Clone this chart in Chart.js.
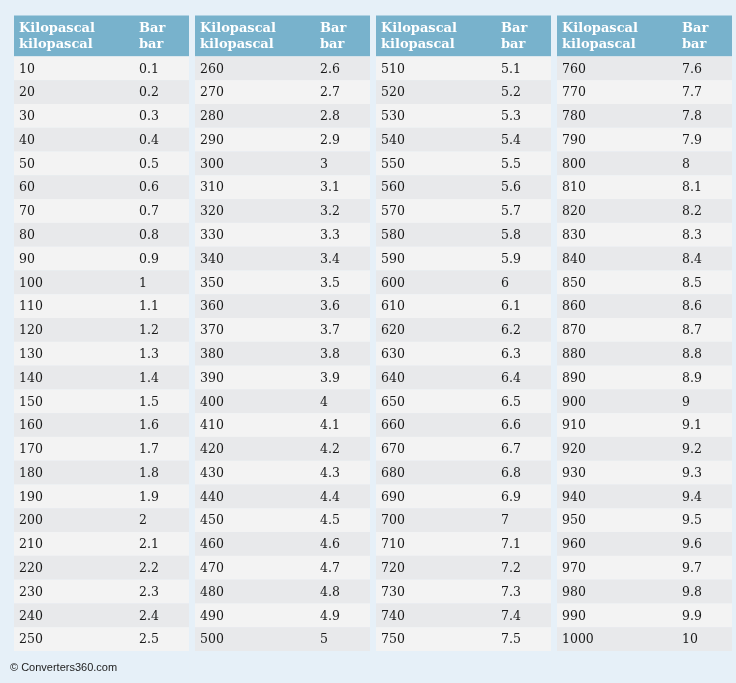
<!DOCTYPE html>
<html>
<head>
<meta charset="utf-8">
<script src="https://cdn.jsdelivr.net/npm/chart.js@4.4.1/dist/chart.umd.min.js"></script>
<style>
  html, body { margin: 0; padding: 0; background: #e6f0f8; }
  #wrap { width: 736px; height: 683px; position: relative; }
</style>
</head>
<body>
<div id="wrap"><canvas id="tbl"></canvas></div>
<script>
// header labels of each block
const headKpa = ['Kilopascal', 'kilopascal'];
const headBar = ['Bar', 'bar'];

// table values, 4 blocks of 25 rows
const kilopascal = [
  10, 20, 30, 40, 50, 60, 70, 80, 90, 100, 110, 120, 130, 140, 150, 160, 170, 180, 190, 200, 210, 220, 230, 240, 250,
  260, 270, 280, 290, 300, 310, 320, 330, 340, 350, 360, 370, 380, 390, 400, 410, 420, 430, 440, 450, 460, 470, 480, 490, 500,
  510, 520, 530, 540, 550, 560, 570, 580, 590, 600, 610, 620, 630, 640, 650, 660, 670, 680, 690, 700, 710, 720, 730, 740, 750,
  760, 770, 780, 790, 800, 810, 820, 830, 840, 850, 860, 870, 880, 890, 900, 910, 920, 930, 940, 950, 960, 970, 980, 990, 1000
];
const bar = [
  0.1, 0.2, 0.3, 0.4, 0.5, 0.6, 0.7, 0.8, 0.9, 1, 1.1, 1.2, 1.3, 1.4, 1.5, 1.6, 1.7, 1.8, 1.9, 2, 2.1, 2.2, 2.3, 2.4, 2.5,
  2.6, 2.7, 2.8, 2.9, 3, 3.1, 3.2, 3.3, 3.4, 3.5, 3.6, 3.7, 3.8, 3.9, 4, 4.1, 4.2, 4.3, 4.4, 4.5, 4.6, 4.7, 4.8, 4.9, 5,
  5.1, 5.2, 5.3, 5.4, 5.5, 5.6, 5.7, 5.8, 5.9, 6, 6.1, 6.2, 6.3, 6.4, 6.5, 6.6, 6.7, 6.8, 6.9, 7, 7.1, 7.2, 7.3, 7.4, 7.5,
  7.6, 7.7, 7.8, 7.9, 8, 8.1, 8.2, 8.3, 8.4, 8.5, 8.6, 8.7, 8.8, 8.9, 9, 9.1, 9.2, 9.3, 9.4, 9.5, 9.6, 9.7, 9.8, 9.9, 10
];
const rowsPerBlock = 25;
const footer = '\u00a9 Converters360.com';

const BLOCK_W = 175 / 181;   // block width, in block spacing units
const HEAD_ROWS = 1.72;      // header height, in row units

const tablePlugin = {
  id: 'tableCells',
  beforeDraw(chart) {
    const ctx = chart.ctx;
    ctx.save();
    ctx.fillStyle = '#e6f0f8';
    ctx.fillRect(0, 0, chart.width, chart.height);
    ctx.restore();
  },
  afterDatasetsDraw(chart) {
    const ctx = chart.ctx;
    const xs = chart.scales.x, ys = chart.scales.y;
    const blocks = Math.ceil(kilopascal.length / rowsPerBlock);
    ctx.save();
    for (let b = 0; b < blocks; b++) {
      const left = xs.getPixelForValue(b);
      const right = xs.getPixelForValue(b + BLOCK_W);
      // header
      const hTop = ys.getPixelForValue(-HEAD_ROWS), hBot = ys.getPixelForValue(0);
      ctx.fillStyle = '#78b2cc';
      ctx.fillRect(left, hTop, right - left, hBot - hTop);
      ctx.fillStyle = '#ffffff';
      ctx.font = 'bold 13px "DejaVu Serif"';
      ctx.textBaseline = 'alphabetic';
      const mid = (hTop + hBot) / 2;
      headKpa.forEach((t, i) => ctx.fillText(t, left + 5, mid - 4 + i * 16));
      headBar.forEach((t, i) => ctx.fillText(t, left + 125, mid - 4 + i * 16));
      // rows
      ctx.font = '12.5px "DejaVu Serif"';
      ctx.textBaseline = 'middle';
      for (let r = 0; r < rowsPerBlock; r++) {
        const i = b * rowsPerBlock + r;
        if (i >= kilopascal.length) break;
        const top = ys.getPixelForValue(r), bot = ys.getPixelForValue(r + 1);
        ctx.fillStyle = (r + b) % 2 === 0 ? '#f3f3f3' : '#e8e9eb';
        ctx.fillRect(left, top, right - left, bot - top);
        ctx.fillStyle = '#1a1a1a';
        const cy = (top + bot) / 2 + 1;
        ctx.fillText(String(kilopascal[i]), left + 5, cy);
        ctx.fillText(String(bar[i]), left + 125, cy);
      }
    }
    ctx.restore();
  },
  afterDraw(chart) {
    const ctx = chart.ctx;
    ctx.save();
    ctx.fillStyle = '#222222';
    ctx.font = '11px "Liberation Sans"';
    ctx.textBaseline = 'middle';
    ctx.fillText(footer, 10, 668);
    ctx.restore();
  }
};

new Chart(document.getElementById('tbl'), {
  type: 'scatter',
  data: {
    datasets: [{
      label: 'kPa to bar',
      data: kilopascal.map((v, i) => ({ x: Math.floor(i / rowsPerBlock), y: i % rowsPerBlock })),
      pointRadius: 0
    }]
  },
  options: {
    responsive: true,
    maintainAspectRatio: false,
    animation: false,
    events: [],
    layout: { padding: { left: 14, right: 4, top: 15.5, bottom: 32 } },
    plugins: { legend: { display: false }, tooltip: { enabled: false } },
    scales: {
      x: { type: 'linear', min: 0, max: 3 + BLOCK_W, display: false },
      y: { type: 'linear', min: -HEAD_ROWS, max: rowsPerBlock, reverse: true, display: false }
    }
  },
  plugins: [tablePlugin]
});
</script>
</body>
</html>
